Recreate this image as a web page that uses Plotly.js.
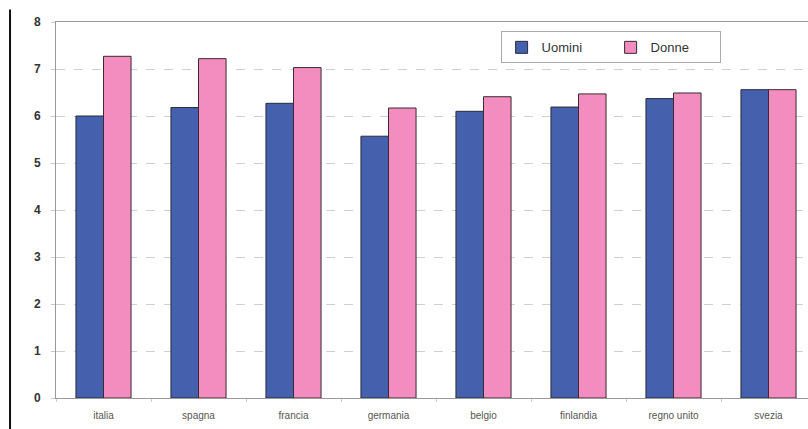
<!DOCTYPE html>
<html><head><meta charset="utf-8">
<script src="https://cdn.plot.ly/plotly-3.0.1.min.js"></script>
<style>html,body{margin:0;padding:0;overflow:hidden;background:#fff;width:808px;height:429px}#chart{width:822px;height:429px}</style>
</head><body><div id="chart"></div>
<script>
const categories = ["italia","spagna","francia","germania","belgio","finlandia","regno unito","svezia"];
const uomini = [6.0, 6.18, 6.27, 5.57, 6.10, 6.19, 6.37, 6.56];
const donne  = [7.27, 7.22, 7.03, 6.17, 6.41, 6.47, 6.49, 6.56];
const seriesNames = ["Uomini","Donne"];

const traces = [
  {type:"bar", name:seriesNames[0], x:categories, y:uomini,
   marker:{color:"#4560ad", line:{color:"#2a2a3a", width:1}}},
  {type:"bar", name:seriesNames[1], x:categories, y:donne,
   marker:{color:"#f38dbf", line:{color:"#3a2a30", width:1}}}
];
const layout = {
  width:822, height:429,
  margin:{l:56, r:6, t:22, b:31},
  paper_bgcolor:"#fff", plot_bgcolor:"#fff",
  barmode:"group", bargap:0.42, bargroupgap:0,
  font:{family:"Liberation Sans, Arial, sans-serif", color:"#333"},
  showlegend:true,
  legend:{orientation:"h", x:0.585, y:0.975, xanchor:"left", yanchor:"top",
    bgcolor:"#fff", bordercolor:"#aaa", borderwidth:1,
    font:{size:13, color:"#333"}, itemwidth:30, tracegroupgap:0,
    entrywidth:64},
  xaxis:{type:"category", showline:true, linecolor:"#999", linewidth:1, mirror:true,
    ticks:"outside", tickson:"boundaries", ticklen:3, tickcolor:"#ccc",
    ticklabelstandoff:8,
    tickfont:{size:10, color:"#555"}, showgrid:false, fixedrange:true},
  yaxis:{range:[0,8], dtick:1, showline:true, linecolor:"#999", linewidth:1, mirror:false,
    ticks:"outside", ticklen:4, tickcolor:"#ccc", ticklabelstandoff:8,
    showgrid:true, gridcolor:"#d0d0d0", griddash:"dash", gridwidth:1,
    zeroline:false, tickfont:{size:12, color:"#333", weight:"bold"}, fixedrange:true},
  shapes:[{type:"line", xref:"paper", yref:"paper", x0:-0.0605, x1:-0.0605, y0:-0.1, y1:1.033,
    line:{color:"#111", width:2}}]
};
Plotly.newPlot("chart", traces, layout, {displayModeBar:false, staticPlot:true});
</script></body></html>
